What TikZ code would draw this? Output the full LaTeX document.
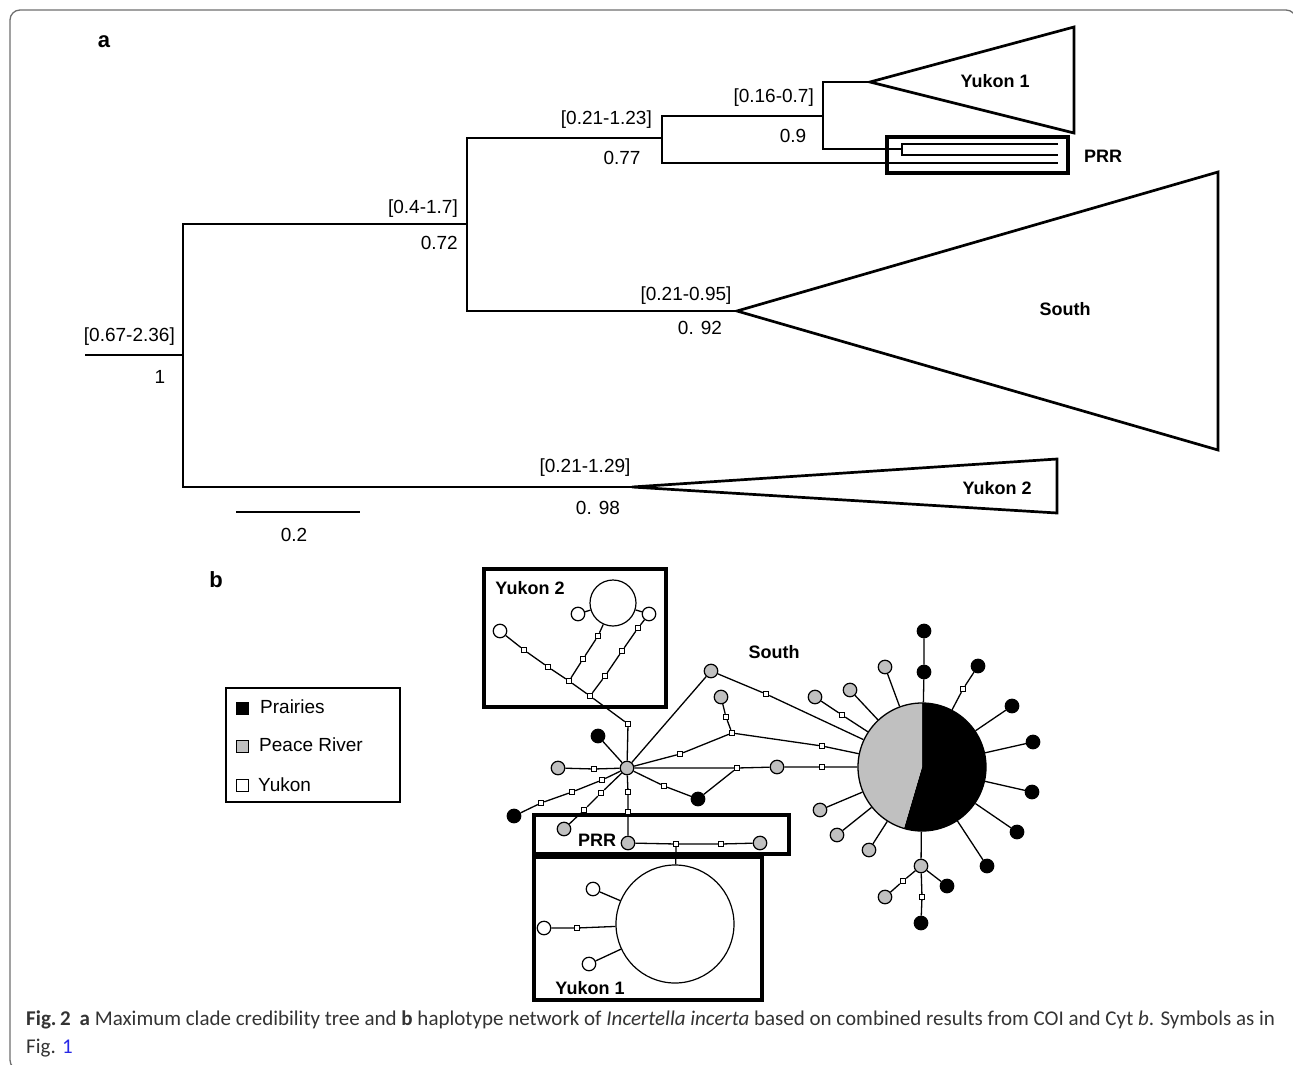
\documentclass[tikz,border=0pt]{standalone}
\usepackage{fontspec}
\setmainfont{Liberation Sans}
\newfontfamily\capfont{Carlito}
\definecolor{pgray}{RGB}{192,192,192}
\definecolor{framegray}{RGB}{110,110,110}
\definecolor{linkblue}{RGB}{40,40,230}
\begin{document}
\begin{tikzpicture}[x=1pt, y=-1pt,
    br/.style={line width=2.7pt},
    box/.style={line width=3.8pt},
    nw/.style={line width=1.3pt},
    hap/.style={circle, draw, line width=1.2pt, inner sep=0pt, minimum size=13.5pt},
    prairie/.style={hap, fill=black},
    peace/.style={hap, fill=pgray},
    yukon/.style={hap, fill=white},
    mv/.style={rectangle, draw, fill=white, line width=0.9pt, inner sep=0pt, minimum size=5.5pt},
    lsq/.style={rectangle, draw, line width=1pt, inner sep=0pt, minimum size=12pt},
    num/.style={font=\fontsize{19}{23}\selectfont, inner sep=0pt},
    tag/.style={font=\fontsize{18}{22}\selectfont\bfseries, inner sep=0pt},
    panel/.style={font=\fontsize{22}{26}\selectfont\bfseries, inner sep=0pt}]
  \useasboundingbox (0,0) rectangle (1293,1065);
  % frame
  \draw[framegray, line width=1.3pt, rounded corners=10pt] (10,10) rectangle (1296,1070);

  % tree
  \node[panel] (pa) at (104,42) {a};
  \draw[br] (85,355) -- (183,355);
  \draw[br] (467,224) -| (183,487) -- (632,487);
  \draw[br] (662,138) -| (467,311) -- (737,311);
  \draw[br] (823,116) -| (662,163) -- (1058,163);
  \draw[br] (870,82) -| (823,149) -- (902,149);
  \draw[br] (1058,144) -| (902,155) -- (1058,155);
  \draw[br] (870,82) -- (1074,27) -- (1074,133) -- cycle;
  \draw[br] (737,311) -- (1218,172) -- (1218,450) -- cycle;
  \draw[br] (632,487) -- (1057,459) -- (1057,513) -- cycle;
  \draw[box] (887,137) rectangle (1068,173);
  \node[tag] (ty1) at (995,81) {Yukon 1};
  \node[tag] (tpr) at (1103,156) {PRR};
  \node[tag] (tso) at (1065,309) {South};
  \node[tag] (ty2) at (997,488) {Yukon 2};
  % node ages and support
  \node[num, anchor=east] (n0r) at (175,337) {[0.67-2.36]};
  \node[num] (n0p) at (160,377) {1};
  \node[num, anchor=east] (n1r) at (458,209) {[0.4-1.7]};
  \node[num, anchor=east] (n1p) at (458,243) {0.72};
  \node[num, anchor=east] (n2r) at (652,120) {[0.21-1.23]};
  \node[num] (n2p) at (622,158) {0.77};
  \node[num, anchor=east] (n3r) at (814,98) {[0.16-0.7]};
  \node[num] (n3p) at (793,136) {0.9};
  \node[num] (n4r) at (686,296) {[0.21-0.95]};
  \node[num] (n4p) at (700,328) {0. 92};
  \node[num] (n5r) at (585,468) {[0.21-1.29]};
  \node[num] (n5p) at (598,508) {0. 98};
  % scale
  \draw[line width=2.2pt] (236,512) -- (360,512);
  \node[num] (sc) at (294,535) {0.2};

  % network
  \node[panel] (pb) at (216,580) {b};
  \draw[line width=2pt] (226,688) rectangle (400,802);
  \node[lsq, fill=black] (kp) at (242,708) {};
  \node[lsq, fill=pgray] (kg) at (242,746) {};
  \node[lsq, fill=white] (kw) at (242,785) {};
  \node[num, anchor=west] (tp) at (260,707) {Prairies};
  \node[num, anchor=west] (tg) at (259,745) {Peace River};
  \node[num, anchor=west] (tw) at (258,785) {Yukon};

  \draw[box] (484,569) rectangle (666,707);
  \draw[box] (534,815) rectangle (789,854);
  \draw[box] (534,857) rectangle (762,1000);
  \node[tag] (by2) at (530,588) {Yukon 2};
  \node[tag] (bpr) at (597,840) {PRR};
  \node[tag] (by1) at (590,988) {Yukon 1};
  \node[tag] (bso) at (774,652) {South};

  % Yukon 2
  \node[yukon, minimum size=46pt] (y2) at (613,603) {};
  \node[yukon] (y2a) at (578,614) {};
  \node[yukon] (y2b) at (649,614) {};
  \node[yukon] (y2c) at (500,631) {};
  \node[mv] (m1) at (524,650) {};
  \node[mv] (m2) at (548,667) {};
  \node[mv] (m3) at (569,681) {};
  \node[mv] (m4) at (590,696) {};
  \node[mv] (m5) at (628,724) {};
  \node[mv] (m6) at (583,659) {};
  \node[mv] (m7) at (598,636) {};
  \node[mv] (m8) at (605,676) {};
  \node[mv] (m9) at (622,651) {};
  \node[mv] (m10) at (638,628) {};
  \node[peace] (hub) at (627,768) {};
  \draw[nw] (y2a) -- (y2) (y2b) -- (y2);
  \draw[nw] (y2c) -- (m1) -- (m2) -- (m3) -- (m4) -- (m5) -- (hub);
  \draw[nw] (m3) -- (m6) -- (m7) -- (y2);
  \draw[nw] (m4) -- (m8) -- (m9) -- (m10) -- (y2b);

  % around the hub
  \node[prairie] (k1) at (598,736) {};
  \node[peace] (g1) at (558,768) {};
  \node[mv] (m11) at (594,769) {};
  \node[prairie] (k2) at (514,816) {};
  \node[mv] (m12) at (602,780) {};
  \node[mv] (m13) at (572,792) {};
  \node[mv] (m14) at (541,803) {};
  \node[peace] (g2) at (564,829) {};
  \node[mv] (m15) at (601,793) {};
  \node[mv] (m16) at (584,810) {};
  \node[mv] (m17) at (628,792) {};
  \node[mv] (m18) at (628,812) {};
  \draw[nw] (hub) -- (k1);
  \draw[nw] (hub) -- (m11) -- (g1);
  \draw[nw] (hub) -- (m12) -- (m13) -- (m14) -- (k2);
  \draw[nw] (hub) -- (m15) -- (m16) -- (g2);

  % PRR
  \node[peace] (p1) at (628,843) {};
  \node[mv] (m31) at (676,844) {};
  \node[mv] (m32) at (721,844) {};
  \node[peace] (p2) at (760,843) {};
  \draw[nw] (hub) -- (m17) -- (m18) -- (p1);
  \draw[nw] (p1) -- (m31) -- (m32) -- (p2);

  % Yukon 1
  \node[yukon, minimum size=118pt] (y1) at (675,924) {};
  \node[yukon] (y1a) at (593,889) {};
  \node[yukon] (y1b) at (544,928) {};
  \node[mv] (m33) at (577,928) {};
  \node[yukon] (y1c) at (589,964) {};
  \draw[nw] (m31) -- (y1);
  \draw[nw] (y1a) -- (y1) (y1c) -- (y1);
  \draw[nw] (y1b) -- (m33) -- (y1);

  % South
  \fill[black] (922,767) -- (922,703) arc[start angle=90, end angle=-106.4, radius=64pt] -- cycle;
  \fill[pgray] (922,767) -- (922,703) arc[start angle=90, end angle=253.6, radius=64pt] -- cycle;
  \node[circle, draw, line width=1.3pt, inner sep=0pt, minimum size=128pt] (sth) at (922,767) {};
  \node[peace] (g3) at (711,671) {};
  \node[mv] (m19) at (766,694) {};
  \node[mv] (m20) at (680,754) {};
  \node[mv] (m21) at (732,733) {};
  \node[mv] (m22) at (726,717) {};
  \node[peace] (g4) at (721,697) {};
  \node[mv] (m23) at (822,746) {};
  \node[mv] (m24) at (737,768) {};
  \node[peace] (g5) at (777,767) {};
  \node[mv] (m25) at (822,767) {};
  \node[mv] (m26) at (664,786) {};
  \node[prairie] (k3) at (698,799) {};
  \draw[nw] (hub) -- (g3) -- (m19) -- (sth);
  \draw[nw] (hub) -- (m20) -- (m21) -- (m23) -- (sth);
  \draw[nw] (m21) -- (m22) -- (g4);
  \draw[nw] (hub) -- (m24) -- (g5) -- (m25) -- (sth);
  \draw[nw] (hub) -- (m26) -- (k3) -- (m24);

  % satellites
  \foreach \n/\x/\y in {s4/1012/706, s5/1033/742, s6/1032/792, s7/1017/832, s8/987/866}
    {\node[prairie] (\n) at (\x,\y) {}; \draw[nw] (sth) -- (\n);}
  \foreach \n/\x/\y in {s13/869/850, s14/837/835, s15/820/810, s17/850/690, s18/885/667}
    {\node[peace] (\n) at (\x,\y) {}; \draw[nw] (sth) -- (\n);}
  \node[prairie] (s1) at (924,672) {};
  \node[prairie] (s2) at (924,631) {};
  \node[mv] (m27) at (963,689) {};
  \node[prairie] (s3) at (978,666) {};
  \node[mv] (m30) at (842,715) {};
  \node[peace] (s16) at (815,697) {};
  \node[peace] (s9) at (921,866) {};
  \node[prairie] (s10) at (947,886) {};
  \node[mv] (m28) at (903,881) {};
  \node[peace] (s11) at (885,897) {};
  \node[mv] (m29) at (922,897) {};
  \node[prairie] (s12) at (921,923) {};
  \draw[nw] (sth) -- (s1) -- (s2);
  \draw[nw] (sth) -- (m27) -- (s3);
  \draw[nw] (sth) -- (m30) -- (s16);
  \draw[nw] (sth) -- (s9) -- (s10);
  \draw[nw] (s9) -- (m28) -- (s11);
  \draw[nw] (s9) -- (m29) -- (s12);

  % caption
  \node[anchor=west, inner sep=0pt, text=black!80, font=\capfont\fontsize{21}{25}\selectfont] (cap1) at (26,1020)
    {\textbf{Fig.\,2}\hspace{9pt}\textbf{a} Maximum clade credibility tree and \textbf{b} haplotype network of \textit{Incertella incerta} based on combined results from COI and Cyt \textit{b}. Symbols as in};
  \node[anchor=west, inner sep=0pt, text=black!80, font=\capfont\fontsize{21}{25}\selectfont] (cap2) at (26,1048)
    {Fig. \textcolor{linkblue}{1}};
\end{tikzpicture}
\end{document}
